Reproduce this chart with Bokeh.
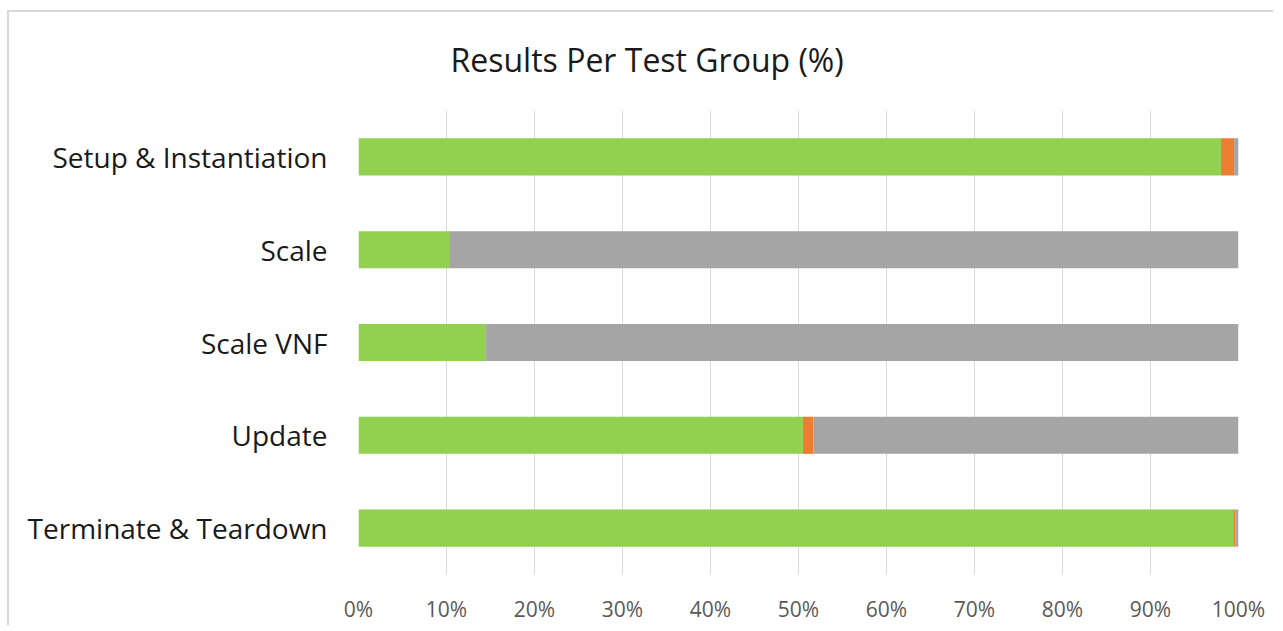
from bokeh.plotting import figure
from bokeh.models import FactorRange, Range1d, PrintfTickFormatter, FixedTicker, ColumnDataSource
from bokeh.embed import file_html
from bokeh.resources import INLINE

title_text = "Results Per Test Group (%)"
categories = ["Setup & Instantiation", "Scale", "Scale VNF", "Update", "Terminate & Teardown"]
passed = [98.0, 10.4, 14.5, 50.5, 99.4]
failed = [1.5, 0.0, 0.0, 1.2, 0.25]
other = [0.5, 89.6, 85.5, 48.3, 0.35]
series = ["passed", "failed", "other"]
colors = ["#92D050", "#ED7D31", "#A5A5A5"]
ticks = list(range(0, 101, 10))

source = ColumnDataSource(dict(cat=categories, passed=passed, failed=failed, other=other))

frame_lines = ("linear-gradient(#d9d9d9, #d9d9d9) 0 6px / 100% 2px no-repeat, "
               "linear-gradient(#d9d9d9, #d9d9d9) 0 6px / 2px 100% no-repeat, #ffffff")

p = figure(width=1266, height=621, output_backend="svg", toolbar_location=None,
           y_range=FactorRange(factors=list(reversed(categories))),
           x_range=Range1d(0, 100),
           min_border_left=351, min_border_right=35, min_border_top=106, min_border_bottom=45,
           styles={"background": frame_lines, "margin-left": "7px", "margin-top": "4px"})
p.border_fill_color = None

p.hbar_stack(series, y="cat", height=0.4, color=colors, line_color=None, source=source)

p.title.text = title_text
p.title.align = "left"
p.title.offset = 92
p.title.text_font = "Open Sans"
p.title.text_font_size = "32px"
p.title.text_font_style = "normal"
p.title.text_color = "#1a1a1a"
p.title.standoff = 60

p.outline_line_color = None
p.ygrid.grid_line_color = None
p.xgrid.grid_line_color = "#d9d9d9"
p.xgrid.grid_line_width = 1
p.xaxis.ticker = FixedTicker(ticks=ticks)
p.xaxis.formatter = PrintfTickFormatter(format="%d%%")
for ax in (p.xaxis, p.yaxis):
    ax.axis_line_color = None
    ax.major_tick_line_color = None
    ax.minor_tick_line_color = None
    ax.major_label_text_font = "Open Sans"
p.xaxis.major_label_text_font_size = "21px"
p.xaxis.major_label_text_color = "#595959"
p.xaxis.major_label_standoff = 14
p.yaxis.major_label_text_font_size = "28px"
p.yaxis.major_label_text_color = "#1a1a1a"
p.yaxis.major_label_standoff = 25

open("out.html", "w").write(file_html(p, INLINE))
